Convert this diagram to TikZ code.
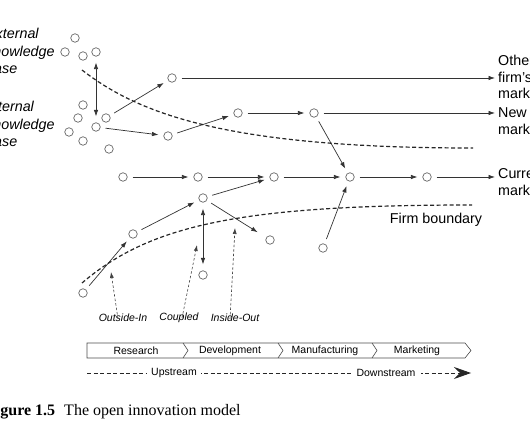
\documentclass[tikz,border=0pt]{standalone}
\usepackage{fontspec}
\setmainfont{Liberation Serif}
\setsansfont{Liberation Sans}
\usetikzlibrary{arrows.meta}

\begin{document}
	\begin{tikzpicture}[x=1pt,y=-1pt,font=\sffamily,
		rond/.style={circle,draw=black!60,fill=white,line width=.7pt,inner sep=0pt,minimum size=8.5pt},
		fleche/.style={-{Latex[length=6.5pt,width=4.5pt]},black!80,line width=.7pt,shorten <=5pt,shorten >=5pt},
		dfleche/.style={{Latex[length=6.5pt,width=4.5pt]}-{Latex[length=6.5pt,width=4.5pt]},black!80,line width=.7pt,shorten <=6pt,shorten >=6pt},
		frontiere/.style={black!85,line width=1.2pt,dash pattern=on 4pt off 2.5pt},
		pointille/.style={-{Latex[length=6pt,width=4pt]},black!75,line width=.6pt,dash pattern=on 2.5pt off 2pt},
		texte/.style={inner sep=0pt,align=left,font=\sffamily\fontsize{14.3}{16.5}\selectfont},
		etape/.style={inner sep=0pt,font=\sffamily\fontsize{10.5}{12}\selectfont}]
		\useasboundingbox (0,0) rectangle (530,443);
		\clip (0,0) rectangle (530,443);
		
		\foreach \n/\x/\y in {e1/75/38,e2/65/52,e3/83/56,e4/96/52,
			i1/83/105,i2/78/118,i3/106/118,i4/96/127,i5/69/132,i6/83/141,i7/109/149,
			a1/172/78,b0/168/136,b1/238/113,b2/314/113,
			c1/123/177,c2/198/177,c3/274/177,c4/350/177,c5/427/177,
			d1/203/198,d2/133/234,d3/83/293,d4/270/240,d5/203/275,d6/323/248}
			\node[rond] (\n) at (\x,\y) {};
		
		\node[texte,anchor=west,font=\sffamily\itshape\fontsize{14.3}{17.5}\selectfont] (externe) at (-14,51) {External\\knowledge\\base};
		\node[texte,anchor=west,font=\sffamily\itshape\fontsize{14.3}{17.5}\selectfont] (interne) at (-14,124) {Internal\\knowledge\\base};
		\node[texte,anchor=west] (autre) at (498,77) {Other\\firm's\\market};
		\node[texte,anchor=west] (neuf) at (498,121) {New\\market};
		\node[texte,anchor=west] (actuel) at (498,182) {Current\\market};
		\node[texte] (frontnom) at (436,220) {Firm boundary};
		
		\draw[dfleche] (e4) -- (i4);
		\draw[fleche] (i3) -- (a1);
		\draw[fleche] (i4) -- (b0);
		\draw[fleche,shorten >=3pt] (a1) -- (a1 -| autre.west);
		\draw[fleche] (b0) -- (b1);
		\draw[fleche] (b1) -- (b2);
		\draw[fleche,shorten >=3pt] (b2) -- (b2 -| neuf.west);
		\draw[fleche] (b2) -- (c4);
		\draw[fleche] (c1) -- (c2);
		\draw[fleche] (c2) -- (c3);
		\draw[fleche] (c3) -- (c4);
		\draw[fleche] (c4) -- (c5);
		\draw[fleche,shorten >=3pt] (c5) -- (c5 -| actuel.west);
		\draw[fleche] (d3) -- (d2);
		\draw[fleche] (d2) -- (d1);
		\draw[fleche] (d1) -- (c3);
		\draw[fleche,shorten >=10pt] (d1) -- (d4);
		\draw[dfleche] (d1) -- (d5);
		\draw[fleche] (d6) -- (c4);
		
		\draw[frontiere] (82,70) .. controls (140,115) and (230,148) .. (473,148);%savoir
		\draw[frontiere] (82,283) .. controls (150,225) and (240,205) .. (472,205);%entreprise
		
		\node[etape,font=\sffamily\itshape\fontsize{10.5}{12}\selectfont] (outin) at (123,318) {Outside-In};
		\node[etape,font=\sffamily\itshape\fontsize{10.5}{12}\selectfont] (couple) at (179,318) {Coupled};
		\node[etape,font=\sffamily\itshape\fontsize{10.5}{12}\selectfont] (inout) at (235,318) {Inside-Out};
		\coordinate (p1) at (111,272);
		\coordinate (p2) at (197,245);
		\coordinate (p3) at (235,228);
		\draw[pointille] ([xshift=-5pt,yshift=-5pt]outin.north) -- (p1);
		\draw[pointille] ([xshift=3pt,yshift=-5pt]couple.north) -- (p2);
		\draw[pointille] ([xshift=-5pt,yshift=-5pt]inout.north) -- (p3);
		
		\draw[black!70,line width=.6pt] (87,343) -- (465,343) -- (471,350.5) -- (465,358) -- (87,358) -- cycle;
		\foreach \s in {183,278,372}{
			\draw[black!70,line width=.6pt] (\s,343) -- (\s+5,350.5) -- (\s,358); }
		\node[etape] (rech) at (136,351) {Research};
		\node[etape] (dev) at (230,351) {Development};
		\node[etape] (fab) at (325,351) {Manufacturing};
		\node[etape] (vente) at (417,351) {Marketing};
		
		\coordinate (amont) at (87,373);
		\coordinate (aval) at (471,373);
		\draw[black!85,line width=.9pt,dash pattern=on 4pt off 2.5pt,-{Stealth[length=17pt,width=12pt,inset=6pt]}] (amont) -- (aval);
		\node[etape,fill=white,inner xsep=4pt,inner ysep=2pt] (haut) at (174,373) {Upstream};
		\node[etape,fill=white,inner xsep=6pt,inner ysep=2pt] (bas) at (386,373) {Downstream};
		
		\node[anchor=base west,inner sep=0pt,font=\rmfamily\fontsize{16}{19}\selectfont] (legende) at (-14,415) {\textbf{Figure 1.5}\hspace{9pt}The open innovation model};
	\end{tikzpicture}
\end{document}
